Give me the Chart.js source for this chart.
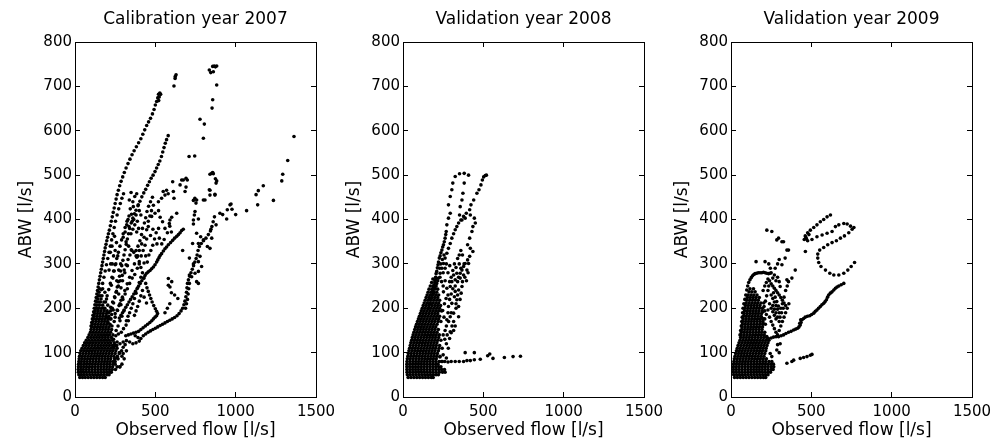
<!DOCTYPE html>
<html>
<head>
<meta charset="utf-8">
<title>ABW against observed flow</title>
<script src="https://cdn.jsdelivr.net/npm/chart.js@4.4.1/dist/chart.umd.min.js"></script>
<style>
  html, body { margin: 0; padding: 0; background: #fff; overflow: hidden; }
  #wrap { position: relative; width: 993px; height: 447px; }
  #wrap canvas { position: absolute; top: 0; }
</style>
</head>
<body>
<div id="wrap">
  <canvas id="c2007" width="338" height="447"></canvas>
  <canvas id="c2008" width="338" height="447"></canvas>
  <canvas id="c2009" width="338" height="447"></canvas>
</div>
<script>
// axes and labels
const X_TICKS = [0, 500, 1000, 1500];
const Y_TICKS = [0, 100, 200, 300, 400, 500, 600, 700, 800];
const TITLES = ['Calibration year 2007', 'Validation year 2008', 'Validation year 2009'];
const X_LABEL = 'Observed flow [l/s]';
const Y_LABEL = 'ABW [l/s]';

// ---- 2007 ----
// dense low-flow core, one row per ABW level: [abw, flow, flow, ...]
const core2007 = [
  [44, 30, 47, 64, 82, 100, 118, 136, 154, 172, 188],
  [50, 24, 40, 57, 74, 92, 110, 128, 146, 164, 182, 200, 212],
  [56, 21, 37, 53, 71, 89, 107, 125, 143, 161, 179, 197, 215, 226],
  [62, 20, 36, 52, 70, 88, 106, 124, 142, 160, 178, 196, 214, 232, 252],
  [68, 21, 37, 54, 72, 90, 108, 126, 144, 162, 180, 198, 216, 234, 262, 278],
  [74, 22, 38, 55, 72, 90, 108, 126, 144, 162, 180, 198, 216, 236, 250],
  [80, 24, 40, 58, 76, 94, 112, 130, 148, 166, 184, 202, 220, 238],
  [86, 26, 42, 60, 78, 96, 114, 132, 150, 168, 186, 204, 222, 246],
  [92, 28, 45, 62, 80, 98, 116, 134, 152, 170, 188, 206, 224, 242, 264],
  [98, 32, 50, 68, 86, 104, 122, 140, 158, 176, 194, 212, 230, 250, 276],
  [104, 36, 54, 72, 90, 108, 126, 144, 162, 180, 198, 216, 234, 254, 290],
  [110, 44, 62, 80, 98, 116, 134, 152, 170, 188, 206, 224, 242, 262],
  [116, 52, 70, 88, 106, 124, 142, 160, 178, 196, 214, 232, 252],
  [122, 60, 78, 96, 114, 132, 150, 168, 186, 204, 222, 244],
  [128, 70, 88, 106, 124, 142, 160, 178, 196, 214, 234],
  [134, 80, 98, 116, 134, 152, 170, 188, 206, 226],
  [140, 88, 106, 124, 142, 160, 178, 196, 214, 236],
  [146, 96, 114, 132, 150, 168, 186, 204, 222],
  [152, 100, 118, 136, 154, 172, 190, 208, 228],
  [158, 104, 122, 140, 158, 176, 194, 212],
  [164, 108, 126, 144, 162, 180, 198, 218],
  [170, 112, 130, 148, 166, 184, 202],
  [176, 116, 134, 152, 170, 188, 206, 224],
  [182, 120, 138, 156, 174, 192, 210],
  [188, 122, 140, 158, 176, 196],
  [194, 126, 144, 162, 182, 200, 222],
  [200, 130, 148, 166, 186],
  [207, 134, 152, 172, 204],
  [214, 138, 158, 180],
  [221, 142, 162, 196],
  [228, 146, 168],
  [236, 150, 186],
  [244, 154, 172]
];
// steepest event and the high peaks
const steep2007 = [
  [100, 160], [104, 168], [108, 176], [112, 184], [116, 192], [120, 200], [124, 208], [128, 216],
  [132, 224], [136, 232], [140, 240], [144, 248], [148, 256], [152, 264], [156, 272], [160, 280],
  [164, 288], [168, 296], [172, 304], [176, 312], [180, 320], [184, 328], [188, 336], [193, 344],
  [198, 352], [203, 360], [208, 368], [214, 376], [220, 386], [226, 396], [232, 406], [238, 416],
  [244, 426], [250, 436], [256, 446], [262, 456], [270, 466], [278, 476], [287, 486], [297, 496],
  [307, 506], [318, 516], [330, 526], [342, 536], [355, 546], [368, 555], [382, 564], [396, 573],
  [410, 582], [422, 592], [434, 602], [446, 612], [458, 620], [470, 628], [482, 638], [492, 648],
  [500, 658], [508, 666], [515, 674], [520, 682], [528, 685], [533, 682], [524, 676], [521, 668],
  [616, 701], [623, 718], [629, 726], [624, 722],
  [836, 737], [845, 731], [857, 745], [861, 733], [867, 746], [874, 744], [882, 746], [882, 703],
  [857, 670], [853, 651], [778, 626], [805, 615], [799, 583], [710, 542], [745, 543]
];
const second2007 = [
  [232, 200], [240, 212], [248, 224], [256, 236], [263, 248], [270, 260], [277, 272], [284, 284],
  [291, 296], [298, 308], [305, 320], [312, 332], [319, 344], [326, 356], [333, 368], [340, 380],
  [350, 392], [360, 403], [370, 413], [380, 421], [392, 431], [404, 441], [416, 451], [428, 460],
  [440, 468], [452, 477], [463, 485], [474, 493], [486, 500], [498, 508], [508, 516], [518, 524],
  [528, 532], [538, 542], [546, 552], [554, 562], [562, 572], [570, 580], [580, 589]
];
// events climbing between the two steepest ones
const inner2007 = [
  [140, 200], [148, 214], [156, 228], [164, 242], [172, 256], [180, 270], [188, 284], [196, 298],
  [204, 312], [212, 326], [220, 340], [228, 354], [236, 368], [244, 382], [252, 396], [262, 410],
  [272, 424], [282, 436], [292, 448], [302, 458],
  [180, 200], [190, 214], [200, 228], [210, 242], [220, 256], [230, 270], [240, 284], [250, 298],
  [260, 312], [270, 326], [280, 340], [290, 354], [300, 368], [312, 382], [324, 396], [336, 408],
  [210, 190], [222, 202], [234, 214], [246, 226], [258, 238], [270, 250], [282, 262], [294, 274],
  [306, 286], [318, 298], [330, 310], [342, 320], [354, 330],
  [196, 180], [206, 168], [218, 176], [228, 186], [238, 196], [250, 188], [262, 196], [274, 206],
  [286, 218], [230, 160], [244, 170], [256, 150], [268, 160], [280, 172], [292, 182], [304, 194],
  [240, 130], [254, 138], [270, 142], [288, 146], [302, 154], [318, 162], [332, 172], [246, 118],
  [262, 124], [300, 112], [312, 118], [276, 100], [292, 92], [306, 86], [250, 80], [268, 86]
];
// long shallow event running out to the largest flows
const long2007 = [
  [240, 112], [260, 116], [280, 120], [300, 124], [320, 127], [340, 124], [360, 120], [380, 122],
  [400, 126], [392, 134], [375, 138], [410, 132], [425, 138], [440, 142], [455, 146], [470, 149],
  [485, 152], [500, 155], [515, 158], [530, 161], [545, 164], [560, 167], [575, 170], [590, 173],
  [605, 176], [620, 179], [635, 183], [648, 188], [660, 194], [670, 200], [678, 208], [684, 216],
  [690, 226], [694, 236], [697, 246], [700, 256], [706, 264], [714, 272], [722, 280], [730, 288],
  [738, 296], [746, 304], [754, 312], [760, 320], [766, 330], [774, 339], [786, 346], [800, 352],
  [815, 358], [830, 366], [843, 374], [852, 384], [860, 395], [868, 406],
  [688, 200], [694, 210], [700, 220], [704, 232], [708, 244], [712, 256],
  [902, 414], [919, 411], [944, 401], [948, 422], [965, 433], [971, 435], [977, 423], [1000, 411],
  [1068, 420], [1127, 456], [1141, 465], [1172, 476], [1137, 433], [1235, 443], [1287, 487],
  [1293, 502], [1324, 533], [1363, 587],
  [280, 68], [292, 74], [260, 88], [300, 98], [320, 104]
];
const zigzag2007 = [
  [380, 330], [390, 318], [400, 305], [410, 292], [420, 280], [430, 268], [440, 256], [448, 246],
  [456, 238], [464, 230], [472, 222], [480, 214], [490, 206], [500, 199], [508, 193], [514, 188],
  [508, 183], [498, 180], [488, 176], [478, 172], [466, 168], [452, 164], [438, 160], [424, 156],
  [410, 152], [396, 148], [380, 146], [364, 144], [348, 142], [332, 140], [316, 138]
];
const slope2007 = [
  [674, 378], [664, 375], [654, 370], [644, 366], [633, 362], [620, 358], [608, 353], [595, 348],
  [581, 343], [570, 338], [560, 334], [550, 329], [539, 323], [530, 319], [523, 314], [515, 309],
  [508, 304], [498, 298], [488, 293], [477, 289], [467, 285], [456, 282], [446, 279], [436, 274],
  [426, 268], [416, 262], [406, 256], [396, 250], [386, 244], [376, 238], [366, 232], [356, 226],
  [346, 220], [336, 214], [326, 208], [316, 202], [306, 196], [296, 190], [286, 184], [276, 178]
];
const fan2007 = [
  [549, 463], [560, 455], [539, 448], [519, 440], [498, 414], [477, 407], [456, 384], [446, 377],
  [430, 360], [415, 345], [400, 330], [385, 315], [370, 300], [355, 285], [340, 270], [325, 255],
  [310, 240], [295, 225], [280, 210], [265, 195], [250, 180],
  [570, 466], [580, 458], [608, 485], [612, 463], [616, 448], [633, 414], [602, 405], [591, 399],
  [587, 391], [674, 489], [691, 493], [699, 489], [691, 473], [685, 463], [664, 489], [654, 478],
  [746, 448], [737, 443], [753, 437], [747, 418], [743, 410], [737, 399], [768, 401], [737, 390],
  [757, 369], [782, 361], [768, 346], [799, 354], [851, 358], [840, 335], [824, 339], [732, 346],
  [670, 330], [712, 313], [778, 317], [768, 305], [737, 300], [788, 294], [768, 283], [747, 279],
  [726, 271], [712, 275], [757, 260], [768, 256], [846, 378], [878, 388], [809, 444], [840, 455],
  [871, 457], [836, 467], [840, 502], [857, 506], [874, 492], [882, 487], [878, 482], [851, 504],
  [861, 503], [757, 444], [799, 444], [840, 466], [871, 455],
  [349, 461], [384, 458], [338, 444], [363, 429], [394, 433], [372, 452], [360, 440], [400, 420],
  [410, 410], [380, 410], [366, 400], [352, 412], [344, 424], [356, 396], [372, 388], [388, 396],
  [396, 380], [384, 372], [360, 378], [348, 368], [336, 384], [330, 400], [322, 388], [312, 372],
  [300, 360], [318, 350], [334, 340], [350, 332], [366, 326], [380, 318], [392, 340], [404, 352],
  [414, 366], [420, 380], [432, 392], [440, 404], [448, 418], [458, 430], [470, 440], [482, 450],
  [488, 432], [476, 420], [466, 408], [456, 396], [446, 356], [436, 342], [424, 330], [412, 318],
  [400, 300], [388, 290], [372, 276], [356, 268], [340, 256], [326, 244], [312, 232], [298, 220],
  [286, 208], [296, 262], [310, 280], [326, 296], [286, 246], [272, 232], [260, 262], [272, 286],
  [284, 300], [266, 318], [254, 300], [244, 284], [236, 268], [226, 252], [250, 330], [240, 318],
  [232, 300], [258, 348], [246, 362], [230, 340], [220, 326], [222, 300], [212, 286], [520, 420],
  [530, 405], [545, 395], [560, 380], [575, 370], [590, 385], [600, 372], [520, 380], [505, 370],
  [495, 356], [510, 345], [525, 358], [540, 345], [555, 355], [470, 364], [485, 378], [460, 320],
  [472, 330], [484, 342], [450, 304], [440, 318], [430, 302], [420, 240], [410, 228], [400, 216],
  [390, 204], [380, 194], [370, 184], [430, 225], [445, 212], [350, 200], [340, 190], [330, 182],
  [320, 172], [360, 210], [370, 222], [380, 234], [390, 246], [400, 258], [410, 270],
  [581, 267], [591, 248], [602, 260], [581, 252], [600, 235], [620, 230], [640, 222], [590, 210],
  [575, 200], [560, 190]
];

// ---- 2008 ----
const core2008 = [
  [44, 32, 50, 68, 86, 104, 122, 140, 158, 176, 188],
  [50, 27, 45, 63, 81, 99, 117, 135, 153, 171, 189, 206, 220],
  [56, 25, 43, 61, 79, 97, 115, 133, 151, 169, 187, 206, 226, 246, 262],
  [62, 24, 42, 60, 78, 96, 114, 132, 150, 168, 186, 204, 222, 240, 258],
  [68, 24, 42, 60, 78, 96, 114, 132, 150, 168, 186, 204, 222, 236],
  [74, 24, 42, 60, 78, 96, 114, 132, 150, 168, 186, 204, 218],
  [80, 25, 43, 61, 79, 97, 115, 133, 151, 169, 187, 205, 225, 245],
  [86, 27, 45, 63, 81, 99, 117, 135, 153, 171, 189, 207],
  [92, 30, 48, 66, 84, 102, 120, 138, 156, 174, 192, 210, 230],
  [98, 33, 51, 69, 87, 105, 123, 141, 159, 177, 195, 214],
  [104, 37, 55, 73, 91, 109, 127, 145, 163, 181, 199, 220],
  [110, 41, 59, 77, 95, 113, 131, 149, 167, 185, 203, 224, 244],
  [116, 45, 63, 81, 99, 117, 135, 153, 171, 189, 207, 228],
  [122, 49, 67, 85, 103, 121, 139, 157, 175, 193, 211],
  [128, 54, 72, 90, 108, 126, 144, 162, 180, 198, 216, 236],
  [134, 58, 76, 94, 112, 130, 148, 166, 184, 202, 222],
  [140, 63, 81, 99, 117, 135, 153, 171, 189, 207, 226],
  [146, 68, 86, 104, 122, 140, 158, 176, 194, 212],
  [152, 73, 91, 109, 127, 145, 163, 181, 199, 220],
  [158, 78, 96, 114, 132, 150, 168, 186, 204],
  [164, 84, 102, 120, 138, 156, 174, 192, 212],
  [170, 90, 108, 126, 144, 162, 180, 198, 218, 236],
  [176, 96, 114, 132, 150, 168, 186, 204, 222],
  [182, 102, 120, 138, 156, 174, 192, 210, 228],
  [188, 108, 126, 144, 162, 180, 198, 216],
  [194, 114, 132, 150, 168, 186, 204, 222, 240],
  [200, 120, 138, 156, 174, 192, 210, 228],
  [206, 126, 144, 162, 180, 198, 216, 234],
  [212, 132, 150, 168, 186, 204, 222],
  [218, 138, 156, 174, 192, 210, 228],
  [224, 144, 162, 180, 198, 216],
  [230, 150, 168, 186, 204, 222],
  [236, 156, 174, 192, 210],
  [243, 162, 180, 198, 216],
  [250, 170, 188, 206],
  [258, 178, 198],
  [266, 186, 204]
];
// event that peaks near 500 l/s ABW and loops back
const loop2008 = [
  [158, 200], [164, 210], [170, 220], [176, 230], [185, 238], [190, 247], [194, 253], [198, 262],
  [203, 270], [206, 278], [210, 283], [214, 291], [218, 298], [221, 304], [226, 313], [231, 318],
  [236, 325], [242, 331], [247, 338], [252, 343], [257, 350], [262, 358], [266, 366], [269, 373],
  [273, 388], [283, 403], [294, 414], [283, 433], [294, 452], [304, 467], [310, 482], [325, 497],
  [352, 503], [381, 504], [408, 500],
  [381, 482], [373, 459], [367, 444], [356, 429], [352, 410], [367, 399], [387, 403], [419, 410],
  [444, 403], [450, 392], [435, 384], [429, 373], [415, 358], [402, 343], [419, 335], [435, 328],
  [415, 317], [402, 309], [387, 301], [377, 294], [367, 286], [356, 279], [346, 270], [325, 264],
  [304, 260], [294, 249], [273, 245], [252, 237]
];
const rise2008 = [
  [169, 211], [179, 223], [190, 234], [200, 245], [210, 256], [221, 268], [231, 279], [242, 290],
  [252, 301], [262, 313], [273, 324], [283, 335], [294, 346], [304, 358], [315, 368], [325, 377],
  [335, 384], [346, 392], [360, 399], [377, 407], [394, 414], [415, 422], [423, 433], [440, 444],
  [460, 459], [473, 467], [485, 478], [494, 489], [502, 496], [512, 499], [519, 500]
];
const fan2008 = [
  [315, 275], [335, 279], [356, 268], [377, 275], [398, 286], [408, 301], [367, 249], [346, 241],
  [325, 238], [335, 219], [304, 211], [283, 204], [346, 204], [315, 189], [294, 181], [273, 174],
  [346, 181], [294, 147], [325, 250], [340, 260], [360, 290], [350, 300], [330, 292], [320, 300],
  [310, 285], [300, 270], [290, 260], [280, 230], [290, 220], [300, 232], [310, 244], [320, 226],
  [330, 210], [340, 230], [355, 220], [362, 234], [370, 260], [385, 270], [395, 262], [405, 280],
  [380, 300], [370, 320], [360, 330], [350, 320], [340, 312], [330, 200], [315, 170], [305, 160],
  [300, 190], [280, 190], [270, 160], [262, 150], [250, 140], [260, 130], [270, 120], [282, 110],
  [275, 140], [290, 132], [300, 145], [315, 150], [325, 160], [284, 170], [255, 180], [247, 195],
  [258, 210], [268, 222], [240, 260], [250, 280], [262, 290], [245, 310], [280, 280], [291, 296],
  [270, 300], [255, 320], [235, 300], [228, 290], [250, 250], [262, 262], [230, 270], [216, 262]
];
// short high-flow burst at low ABW
const tail2008 = [
  [240, 80], [260, 80], [280, 79], [300, 80], [325, 80], [350, 80], [377, 80], [398, 82],
  [419, 82], [444, 84], [481, 85], [387, 100], [444, 100], [527, 93], [540, 97], [560, 87],
  [631, 89], [685, 91], [731, 92], [230, 90], [250, 95], [270, 88]
];

// ---- 2009 ----
const core2009 = [
  [44, 22, 40, 58, 76, 94, 112, 130, 148, 166, 184, 202, 216],
  [50, 17, 35, 53, 71, 89, 107, 125, 143, 161, 179, 197, 215, 230],
  [56, 15, 33, 51, 69, 87, 105, 123, 141, 159, 177, 195, 213, 231, 246],
  [62, 15, 33, 51, 69, 87, 105, 123, 141, 159, 177, 195, 213, 231, 250, 262],
  [68, 15, 33, 51, 69, 87, 105, 123, 141, 159, 177, 195, 213, 231, 250, 266],
  [74, 16, 34, 52, 70, 88, 106, 124, 142, 160, 178, 196, 214, 232, 250, 264],
  [80, 18, 36, 54, 72, 90, 108, 126, 144, 162, 180, 198, 216, 236, 254],
  [86, 21, 39, 57, 75, 93, 111, 129, 147, 165, 183, 201, 220],
  [92, 25, 43, 61, 79, 97, 115, 133, 151, 169, 187, 205],
  [98, 29, 47, 65, 83, 101, 119, 137, 155, 173, 191, 210],
  [104, 34, 52, 70, 88, 106, 124, 142, 160, 178, 196, 216],
  [110, 39, 57, 75, 93, 111, 129, 147, 165, 183, 201, 219],
  [116, 44, 62, 80, 98, 116, 134, 152, 170, 188, 206, 224],
  [122, 50, 68, 86, 104, 122, 140, 158, 176, 194, 212, 230],
  [128, 56, 74, 92, 110, 128, 146, 164, 182, 200, 218, 236],
  [134, 60, 78, 96, 114, 132, 150, 168, 186, 204, 222],
  [140, 63, 81, 99, 117, 135, 153, 171, 189, 207],
  [146, 65, 83, 101, 119, 137, 155, 173, 191, 210],
  [152, 67, 85, 103, 121, 139, 157, 175, 193],
  [158, 69, 87, 105, 123, 141, 159, 177, 196],
  [164, 71, 89, 107, 125, 143, 161, 179, 198, 214],
  [170, 73, 91, 109, 127, 145, 163, 181, 198],
  [176, 75, 93, 111, 129, 147, 165, 183, 202],
  [182, 78, 96, 114, 132, 150, 168, 186],
  [188, 81, 99, 117, 135, 153, 171, 190],
  [194, 84, 102, 120, 138, 156, 174, 194, 210],
  [200, 87, 105, 123, 141, 159, 177, 196],
  [206, 90, 108, 126, 144, 162, 180],
  [212, 94, 112, 130, 148, 166, 186, 204],
  [218, 98, 116, 134, 152, 170],
  [224, 102, 120, 138, 156, 176],
  [230, 106, 124, 142, 162],
  [237, 112, 130, 150],
  [244, 118, 140]
];
const crest2009 = [
  [56, 140], [60, 150], [64, 160], [67, 170], [70, 180], [72, 190], [75, 200], [80, 210],
  [86, 220], [92, 230], [98, 241], [104, 250], [110, 258], [118, 264], [126, 269], [134, 273],
  [142, 276], [150, 278], [160, 279], [170, 280], [181, 280], [192, 280], [202, 281], [212, 280],
  [222, 279], [234, 278], [244, 279],
  [212, 305], [223, 376], [254, 373], [296, 358], [317, 350], [358, 331], [337, 313], [317, 298],
  [400, 286], [379, 268], [358, 260], [348, 264], [306, 249], [285, 354], [327, 350], [348, 331],
  [156, 305], [463, 328]
];
const fan2009 = [
  [200, 240], [210, 250], [220, 258], [230, 266], [240, 262], [250, 255], [260, 250], [270, 245],
  [280, 240], [290, 235], [300, 230], [310, 224], [320, 218], [330, 212], [340, 206], [250, 230],
  [260, 222], [270, 214], [280, 206], [290, 198], [300, 190], [240, 210], [250, 200], [260, 192],
  [270, 184], [280, 176], [230, 196], [220, 186], [210, 176], [200, 166], [240, 180], [250, 170],
  [260, 162], [270, 154], [280, 146], [290, 140], [300, 150], [310, 160], [320, 170], [330, 180],
  [340, 190], [350, 200], [360, 210], [310, 200], [320, 210], [330, 225], [340, 240], [350, 250],
  [300, 260], [290, 270], [280, 262], [270, 275], [260, 268], [250, 280], [245, 290], [235, 300],
  [275, 290], [290, 300], [300, 310], [265, 235], [275, 225], [285, 215], [295, 205], [305, 180],
  [315, 190], [325, 200], [230, 240], [222, 228], [214, 216], [206, 204], [198, 192], [190, 180],
  [235, 250], [280, 190], [290, 180], [300, 170], [270, 198], [260, 206],
  [244, 98], [254, 91], [285, 106], [300, 100], [306, 120], [290, 118]
];
// rising limb toward 780 l/s
const limb2009 = [
  [223, 136], [233, 132], [250, 133], [265, 135], [280, 136], [296, 136], [312, 138], [327, 140],
  [342, 143], [358, 146], [374, 148], [390, 151], [403, 153], [415, 155], [423, 158], [431, 162],
  [436, 168], [442, 174], [452, 177], [462, 180], [476, 182], [490, 183], [502, 186], [515, 189],
  [525, 193], [535, 196], [545, 200], [556, 204], [566, 208], [577, 211], [586, 215], [594, 219],
  [601, 225], [608, 230], [618, 234], [629, 237], [640, 241], [650, 245], [660, 248], [671, 250],
  [686, 253], [702, 256], [428, 166], [434, 174],
  [348, 76], [379, 80], [390, 83], [431, 87], [452, 89], [473, 91], [494, 94], [504, 96]
];
// hysteresis loop of the largest 2009 event
const loop2009 = [
  [619, 410], [598, 406], [577, 400], [556, 395], [535, 388], [515, 382], [494, 376], [477, 370],
  [462, 363], [456, 355], [466, 360], [470, 356], [485, 366], [477, 352], [504, 355], [535, 361],
  [567, 365], [598, 369], [629, 373], [650, 384], [671, 388], [702, 391], [723, 390], [744, 385],
  [765, 382], [754, 378], [733, 370], [706, 363], [681, 358], [656, 352], [629, 348], [602, 343],
  [577, 337], [552, 331], [540, 322], [540, 313], [546, 303], [560, 294], [588, 286], [615, 279],
  [640, 275], [671, 275], [702, 279], [727, 286], [748, 294], [769, 303]
];

// layout of the three panels on the page
const PLOT_LEFT = [75, 403, 731];
const PLOT_W = 241;
const AXIS_W = 75;
const CANVAS_W = 338;
const TICK_IN = -5;
const FONT = "'DejaVu Sans', Verdana, sans-serif";

Chart.defaults.font.family = FONT;
Chart.defaults.color = '#000';

const rowsToPoints = rows => {
  const pts = [];
  rows.forEach(([y, ...xs]) => xs.forEach(x => pts.push({ x, y })));
  return pts;
};
const pairsToPoints = pairs => pairs.map(([x, y]) => ({ x, y }));

// panel title centred over the plot box
const panelTitle = {
  id: 'panelTitle',
  afterDraw(chart, args, opts) {
    const { ctx, chartArea: a } = chart;
    ctx.save();
    ctx.fillStyle = '#000';
    ctx.font = '17px ' + FONT;
    ctx.textAlign = 'center';
    ctx.textBaseline = 'middle';
    ctx.fillText(opts.text, (a.left + a.right) / 2, 20);
    ctx.restore();
  }
};

// box sides: inward tick marks (negative tick length), solid border
const sideGrid = { display: true, drawOnChartArea: false, drawTicks: true, tickLength: TICK_IN, color: '#000', lineWidth: 1 };
const sideBorder = { display: true, color: '#000', width: 1 };

const makeChart = (id, title, points, plotLeft) => {
  const canvas = document.getElementById(id);
  canvas.style.left = (plotLeft - AXIS_W) + 'px';
  return new Chart(canvas.getContext('2d'), {
    type: 'scatter',
    data: {
      datasets: [{
        data: points,
        pointRadius: 1.8,
        pointHoverRadius: 1.8,
        pointBorderWidth: 0,
        pointBackgroundColor: '#000',
        backgroundColor: '#000'
      }]
    },
    options: {
      responsive: false,
      animation: false,
      events: [],
      layout: { padding: { left: 0, top: 42, bottom: 0, right: CANVAS_W - AXIS_W - PLOT_W } },
      plugins: {
        legend: { display: false },
        tooltip: { enabled: false },
        title: { display: false },
        panelTitle: { text: title }
      },
      scales: {
        x: {
          type: 'linear',
          position: 'bottom',
          min: 0,
          max: 1500,
          afterBuildTicks: ax => { ax.ticks = X_TICKS.map(value => ({ value })); },
          grid: sideGrid,
          border: sideBorder,
          ticks: { color: '#000', font: { size: 15 }, padding: 6 - TICK_IN, maxRotation: 0, autoSkip: false, callback: v => String(v) },
          title: { display: true, text: X_LABEL, color: '#000', font: { size: 17, lineHeight: 1.2 }, padding: { top: 0, bottom: 6 } },
          afterFit: ax => { ax.height = 50; ax.paddingLeft = 0; ax.paddingRight = 0; }
        },
        xTop: {
          type: 'linear',
          position: 'top',
          min: 0,
          max: 1500,
          afterBuildTicks: ax => { ax.ticks = X_TICKS.map(value => ({ value })); },
          grid: sideGrid,
          border: sideBorder,
          ticks: { display: false },
          afterFit: ax => { ax.height = 0; ax.paddingLeft = 0; ax.paddingRight = 0; }
        },
        y: {
          type: 'linear',
          position: 'left',
          min: 0,
          max: 800,
          afterBuildTicks: ax => { ax.ticks = Y_TICKS.map(value => ({ value })); },
          grid: sideGrid,
          border: sideBorder,
          ticks: { color: '#000', font: { size: 15 }, padding: 3 - TICK_IN, autoSkip: false, callback: v => String(v) },
          title: { display: true, text: Y_LABEL, color: '#000', font: { size: 17, lineHeight: 1.2 }, padding: { top: 16.8, bottom: 0 } },
          afterFit: ax => { ax.width = AXIS_W; ax.paddingTop = 0; ax.paddingBottom = 0; }
        },
        yRight: {
          type: 'linear',
          position: 'right',
          min: 0,
          max: 800,
          afterBuildTicks: ax => { ax.ticks = Y_TICKS.map(value => ({ value })); },
          grid: sideGrid,
          border: sideBorder,
          ticks: { display: false },
          afterFit: ax => { ax.width = 0; ax.paddingTop = 0; ax.paddingBottom = 0; }
        }
      }
    },
    plugins: [panelTitle]
  });
};

const points2007 = rowsToPoints(core2007).concat(
  pairsToPoints(steep2007), pairsToPoints(second2007), pairsToPoints(inner2007),
  pairsToPoints(long2007), pairsToPoints(zigzag2007), pairsToPoints(slope2007), pairsToPoints(fan2007));
const points2008 = rowsToPoints(core2008).concat(
  pairsToPoints(loop2008), pairsToPoints(rise2008), pairsToPoints(fan2008), pairsToPoints(tail2008));
const points2009 = rowsToPoints(core2009).concat(
  pairsToPoints(crest2009), pairsToPoints(fan2009), pairsToPoints(limb2009), pairsToPoints(loop2009));

makeChart('c2007', TITLES[0], points2007, PLOT_LEFT[0]);
makeChart('c2008', TITLES[1], points2008, PLOT_LEFT[1]);
makeChart('c2009', TITLES[2], points2009, PLOT_LEFT[2]);
</script>
</body>
</html>
